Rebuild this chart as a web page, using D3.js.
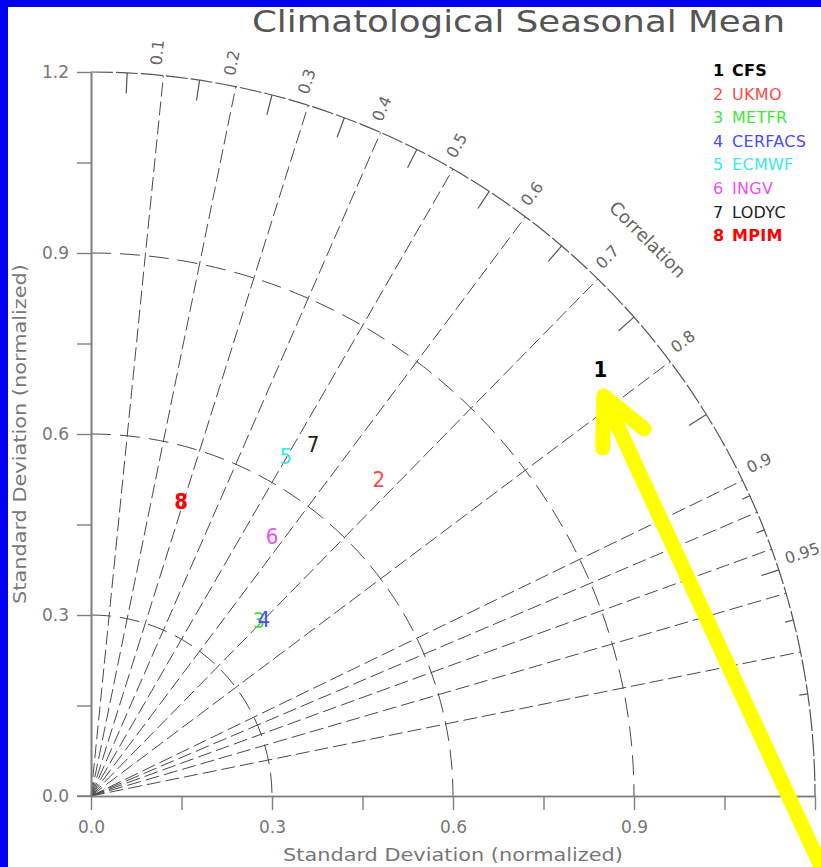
<!DOCTYPE html>
<html><head><meta charset="utf-8">
<script src="https://cdn.jsdelivr.net/npm/d3@7"></script>
<style>
body{margin:0;background:#fff;}
svg{display:block;}
text{font-family:"DejaVu Sans",sans-serif;}
</style>
</head><body>
<svg id="chart" width="821" height="867"></svg>
<script>
// ---- data ----
const models = ["CFS","UKMO","METFR","CERFACS","ECMWF","INGV","LODYC","MPIM"];
const stdDev = [1.101, 0.709, 0.402, 0.410, 0.648, 0.524, 0.689, 0.510];
const correlation = [0.767, 0.673, 0.692, 0.699, 0.498, 0.573, 0.534, 0.293];
const modelColors = ["#000000","#ff4a4a","#3ce83c","#4a4aff","#3ce8e8","#f050f0","#222222","#ff0000"];
const modelBold = [true,false,false,false,false,false,false,true];
const stdTicks = [0, 0.3, 0.6, 0.9];
const stdTicksY = [0, 0.3, 0.6, 0.9, 1.2];
const stdMinor = [0.15, 0.45, 0.75, 1.05];
const stdArcs = [0.3, 0.6, 0.9];
const stdMax = 1.2;
const corrLines = [0.1,0.2,0.3,0.4,0.5,0.6,0.7,0.8,0.9,0.92,0.94,0.96,0.98];
const corrLabels = [0.1,0.2,0.3,0.4,0.5,0.6,0.7,0.8,0.9,0.95];
const corrMinor = [0.05,0.15,0.25,0.35,0.45,0.55,0.65,0.75,0.85,0.95];
const corrFine = [0.91,0.93,0.97,0.99];
const title = "Climatological Seasonal Mean";
const axisTitle = "Standard Deviation (normalized)";
const arrowTip = [0.850, 0.663];
const arrowTail = [1.215, -0.128];

// ---- layout ----
const svg = d3.select("#chart");
const W = 821, H = 867;
const ox = 91, oy = 796, R = 724;
const x = d3.scaleLinear().domain([0, stdMax]).range([ox, ox + R]);
const y = d3.scaleLinear().domain([0, stdMax]).range([oy, oy - R]);
const rs = d3.scaleLinear().domain([0, stdMax]).range([0, R]);
const ang = c => Math.acos(c);
const px = (s, c) => x(s * c);
const py = (s, c) => y(s * Math.sqrt(1 - c * c));

svg.append("rect").attr("width", W).attr("height", H).attr("fill", "#fff");

const gridCol = "#4a4a4a";
// std arcs
stdArcs.forEach(s => {
  const p = d3.path();
  p.arc(ox, oy, rs(s), -Math.PI / 2, 0);
  svg.append("path").attr("d", p.toString()).attr("fill", "none")
    .attr("stroke", gridCol).attr("stroke-width", 1).attr("stroke-dasharray", "20,9");
});
// radial correlation lines
svg.selectAll("line.corr").data(corrLines).join("line").attr("class", "corr")
  .attr("x1", x(0)).attr("y1", y(0))
  .attr("x2", c => px(stdMax, c)).attr("y2", c => py(stdMax, c))
  .attr("stroke", gridCol).attr("stroke-width", 1).attr("stroke-dasharray", "14,5");
// outer arc
{
  const p = d3.path();
  p.arc(ox, oy, rs(stdMax), -Math.PI / 2, 0);
  svg.append("path").attr("d", p.toString()).attr("fill", "none")
    .attr("stroke", "#555").attr("stroke-width", 1.2).attr("stroke-dasharray", "22,3");
}
// outer arc ticks
svg.selectAll("line.cm").data(corrMinor).join("line").attr("class", "cm")
  .attr("x1", c => px(stdMax, c)).attr("y1", c => py(stdMax, c))
  .attr("x2", c => px(stdMax - (c > 0.9 ? 0.03 : 0.034), c)).attr("y2", c => py(stdMax - (c > 0.9 ? 0.03 : 0.034), c))
  .attr("stroke", "#555").attr("stroke-width", 1.2);
svg.selectAll("line.cf").data(corrFine).join("line").attr("class", "cf")
  .attr("x1", c => px(stdMax, c)).attr("y1", c => py(stdMax, c))
  .attr("x2", c => px(stdMax - 0.014, c)).attr("y2", c => py(stdMax - 0.014, c))
  .attr("stroke", "#555").attr("stroke-width", 1.2);
// correlation labels
svg.selectAll("text.cl").data(corrLabels).join("text").attr("class", "cl")
  .attr("transform", c => `translate(${px(stdMax + 0.016, c)},${py(stdMax + 0.016, c)}) rotate(${-ang(c) * 180 / Math.PI})`)
  .attr("dy", -3).attr("font-size", 16).attr("fill", "#666")
  .text(c => String(c));
// "Correlation" label
{
  const a = Math.PI / 4, rr = 1.305;
  svg.append("text")
    .attr("transform", `translate(${x(rr * Math.cos(a))},${y(rr * Math.sin(a))}) rotate(45)`)
    .attr("text-anchor", "middle").attr("dominant-baseline", "central")
    .attr("font-size", 18).attr("fill", "#666").text("Correlation");
}

// axes
const axisCol = "#808080";
const yAxis = svg.append("g").attr("transform", `translate(${ox},0)`)
  .call(d3.axisLeft(y).tickValues(stdTicksY).tickSize(14).tickSizeOuter(0).tickPadding(8).tickFormat(d3.format(".1f")));
const yAxisMinor = svg.append("g").attr("transform", `translate(${ox},0)`)
  .call(d3.axisLeft(y).tickValues(stdMinor).tickSize(14).tickSizeOuter(0).tickFormat(""));
const xAxis = svg.append("g").attr("transform", `translate(0,${oy})`)
  .call(d3.axisBottom(x).tickValues(stdTicks).tickSize(14).tickSizeOuter(0).tickPadding(11).tickFormat(d3.format(".1f")));
const xAxisMinor = svg.append("g").attr("transform", `translate(0,${oy})`)
  .call(d3.axisBottom(x).tickValues(stdMinor.concat([stdMax])).tickSize(14).tickSizeOuter(0).tickFormat(""));
[yAxis, yAxisMinor, xAxis, xAxisMinor].forEach(g => {
  g.selectAll("path.domain").attr("stroke", axisCol).attr("stroke-width", 1.6);
  g.selectAll(".tick line").attr("stroke", axisCol).attr("stroke-width", 1.4);
  g.selectAll(".tick text").attr("font-family", "DejaVu Sans").attr("font-size", 17).attr("fill", "#777");
});
// extend x-axis line left to meet y tick
svg.append("line").attr("x1", ox - 14).attr("x2", ox).attr("y1", oy).attr("y2", oy)
  .attr("stroke", axisCol).attr("stroke-width", 1.6);

// axis titles
svg.append("text").attr("x", x(0.6)).attr("y", 861).attr("text-anchor", "middle")
  .attr("font-size", 17).attr("fill", "#777").attr("textLength", 340).attr("lengthAdjust", "spacingAndGlyphs")
  .text(axisTitle);
svg.append("text").attr("transform", `translate(26,${y(0.6)}) rotate(-90)`).attr("text-anchor", "middle")
  .attr("font-size", 17).attr("fill", "#777").attr("textLength", 340).attr("lengthAdjust", "spacingAndGlyphs")
  .text(axisTitle);

// title
svg.append("text").attr("x", 252).attr("y", 32).attr("font-size", 30).attr("fill", "#555")
  .attr("textLength", 533).attr("lengthAdjust", "spacingAndGlyphs").text(title);

// points (numbered markers)
const pts = models.map((m, i) => ({ m, i, s: stdDev[i], c: correlation[i] }));
svg.selectAll("text.pt").data(pts).join("text").attr("class", "pt")
  .attr("x", d => px(d.s, d.c)).attr("y", d => py(d.s, d.c))
  .attr("text-anchor", "middle").attr("dominant-baseline", "central")
  .style("font-family", "'DejaVu Sans Condensed','DejaVu Sans',sans-serif")
  .attr("font-size", 22).attr("font-weight", d => modelBold[d.i] ? "bold" : "normal")
  .attr("fill", d => modelColors[d.i]).text(d => d.i + 1);

// legend
const lg = svg.append("g");
pts.forEach((d, i) => {
  const yy = 76 + i * 23.6;
  lg.append("text").attr("x", 713).attr("y", yy).attr("font-size", 16)
    .attr("font-weight", modelBold[i] ? "bold" : "normal").attr("fill", modelColors[i]).text(i + 1);
  lg.append("text").attr("x", 732).attr("y", yy).attr("font-size", 16).attr("letter-spacing", 0.3)
    .attr("font-weight", modelBold[i] ? "bold" : "normal").attr("fill", modelColors[i]).text(d.m);
});

// annotation arrow (yellow)
{
  const tx = x(arrowTip[0]), ty = y(arrowTip[1]);
  const ex = x(arrowTail[0]), ey = y(arrowTail[1]);
  const a = Math.atan2(ey - ty, ex - tx);
  const hl = 52, spread = 26 * Math.PI / 180;
  const p = d3.path();
  p.moveTo(ex, ey); p.lineTo(tx, ty);
  p.moveTo(tx + hl * Math.cos(a + spread), ty + hl * Math.sin(a + spread)); p.lineTo(tx, ty);
  p.lineTo(tx + hl * Math.cos(a - spread), ty + hl * Math.sin(a - spread));
  svg.append("path").attr("d", p.toString()).attr("fill", "none").attr("stroke", "#ffff00")
    .attr("stroke-width", 15).attr("stroke-linecap", "round").attr("stroke-linejoin", "round");
}

// blue frame (left & top)
svg.append("rect").attr("x", 0).attr("y", 0).attr("width", 8).attr("height", H).attr("fill", "#0000f0");
svg.append("rect").attr("x", 0).attr("y", 0).attr("width", W).attr("height", 7).attr("fill", "#0000f0");
</script>
</body></html>
